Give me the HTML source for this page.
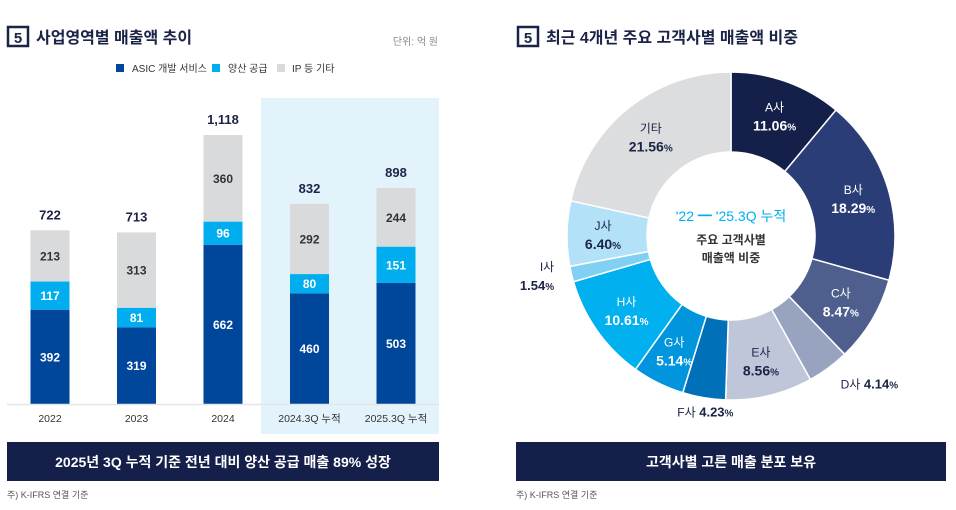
<!DOCTYPE html>
<html><head><meta charset="utf-8">
<style>
body{margin:0;width:956px;height:505px;background:#fff;overflow:hidden;font-family:"Liberation Sans","Noto Sans CJK KR",sans-serif;}
svg text{font-family:"Liberation Sans","Noto Sans CJK KR",sans-serif;}
</style></head>
<body>
<svg width="956" height="505" viewBox="0 0 956 505">
<g>
<rect x="8" y="27" width="20" height="19" fill="none" stroke="#1b2447" stroke-width="2.5"/>
<text x="18" y="43" font-size="15" font-weight="bold" fill="#1b2447" text-anchor="middle">5</text>
</g>
<text x="36" y="43" font-size="16" font-weight="bold" fill="#1b2447">사업영역별 매출액 추이</text>
<text x="438" y="45" font-size="10" fill="#888" text-anchor="end">단위: 억 원</text>
<g>
<rect x="116" y="64" width="8" height="8" fill="#00479b"/><text x="132" y="72" font-size="10" fill="#333">ASIC 개발 서비스</text>
<rect x="212" y="64" width="8" height="8" fill="#00aeef"/><text x="228" y="72" font-size="10" fill="#333">양산 공급</text>
<rect x="277" y="64" width="8" height="8" fill="#d9dadc"/><text x="292" y="72" font-size="10" fill="#333">IP 등 기타</text>
</g>
<rect x="261" y="98" width="178" height="336" fill="#e3f3fb"/>
<g id="bars"></g>
<line x1="7" y1="404.5" x2="439" y2="404.5" stroke="#e3e5e8" stroke-width="1.5"/>
<rect x="7" y="442" width="432" height="39" fill="#141f4a"/>
<text x="223" y="467" font-size="14" font-weight="bold" fill="#fff" text-anchor="middle">2025년 3Q 누적 기준 전년 대비 양산 공급 매출 89% 성장</text>
<text x="7" y="498" font-size="9" fill="#555">주) K-IFRS 연결 기준</text>

<g>
<rect x="518" y="27" width="20" height="19" fill="none" stroke="#1b2447" stroke-width="2.5"/>
<text x="528" y="43" font-size="15" font-weight="bold" fill="#1b2447" text-anchor="middle">5</text>
</g>
<text x="546" y="43" font-size="16" font-weight="bold" fill="#1b2447">최근 4개년 주요 고객사별 매출액 비중</text>
<g id="donut"></g>
<g>
<text x="731" y="221" font-size="14" fill="#00aeef" text-anchor="middle">'22 ━ '25.3Q 누적</text>
<text x="731" y="244" font-size="12" font-weight="bold" fill="#333" text-anchor="middle">주요 고객사별</text>
<text x="731" y="262" font-size="12" font-weight="bold" fill="#333" text-anchor="middle">매출액 비중</text>
</g>
<rect x="516" y="442" width="430" height="39" fill="#141f4a"/>
<text x="731" y="467" font-size="14" font-weight="bold" fill="#fff" text-anchor="middle">고객사별 고른 매출 분포 보유</text>
<text x="516" y="498" font-size="9" fill="#555">주) K-IFRS 연결 기준</text>
</svg>
<script>
const categories=["2022","2023","2024","2024.3Q 누적","2025.3Q 누적"];
const asicValues=[392,319,662,460,503];
const massValues=[117,81,96,80,151];
const otherValues=[213,313,360,292,244];
const totalLabels=["722","713","1,118","832","898"];

const segNames=["A사","B사","C사","D사","E사","F사","G사","H사","I사","J사","기타"];
const segValues=[11.06,18.29,8.47,4.14,8.56,4.23,5.14,10.61,1.54,6.40,21.56];

const NS="http://www.w3.org/2000/svg";
function mk(tag,attrs,parent){const e=document.createElementNS(NS,tag);for(const k in attrs)e.setAttribute(k,attrs[k]);parent.appendChild(e);return e;}
const base=404, scale=269/1118;
const yPx=v=>v*scale;
const xC=i=>50+i*86.5;
const bars=document.getElementById('bars');
const layers=[[asicValues,"#00479b","#fff","asic"],[massValues,"#00aeef","#fff","mass"],[otherValues,"#d9dadc","#333","other"]];
categories.forEach((c,i)=>{
  let y=base;
  layers.forEach(([vals,col,tc,nm])=>{
    const h=yPx(vals[i]);
    const r=mk('rect',{x:xC(i)-19.5,y:y-h,width:39,height:h,fill:col},bars);
    
    
    const t=mk('text',{x:xC(i),y:y-h/2+4.5,'font-size':12,'font-weight':'bold',fill:tc,'text-anchor':'middle'},bars);
    t.textContent=vals[i];
    y-=h;
  });
  const t=mk('text',{x:xC(i),y:y-11,'font-size':13,'font-weight':'bold',fill:'#1b2447','text-anchor':'middle'},bars);
  
  
  t.textContent=totalLabels[i];
  const l=mk('text',{x:xC(i),y:422,'font-size':10.5,fill:'#333','text-anchor':'middle'},bars);
  
  
  l.textContent=c;
});

const colors=["#141f4a","#2b3d77","#4e5f8e","#97a3bf","#bfc6d9","#0070b8","#0095dd","#00b0ef","#7fd0f3","#b3e2f8","#dcdddf"];
const labColors=["#fff","#fff","#fff","#1b2447","#1b2447","#1b2447","#fff","#fff","#1b2447","#1b2447","#1b2447"];
const cx=731,cy=236,R=164,r0=84;
const donut=document.getElementById('donut');
const tot=segValues.reduce((a,b)=>a+b,0);
let a0=0;
const pt=(a,rad)=>[cx+rad*Math.sin(a),cy-rad*Math.cos(a)];
segValues.forEach((v,i)=>{
  const a1=a0+v/tot*2*Math.PI;
  const [x1,y1]=pt(a0,R),[x2,y2]=pt(a1,R),[x3,y3]=pt(a1,r0),[x4,y4]=pt(a0,r0);
  const lg=(a1-a0)>Math.PI?1:0;
  const p=mk('path',{d:`M${x1},${y1}A${R},${R} 0 ${lg} 1 ${x2},${y2}L${x3},${y3}A${r0},${r0} 0 ${lg} 0 ${x4},${y4}Z`,fill:colors[i],stroke:'#fff','stroke-width':1.5},donut);
  
  
  const am=(a0+a1)/2;
  const small=v<4.5;
  let lx,ly;
  if(small){
    if(segNames[i]==="I사"){lx=cx-194;ly=cy+53;}
    else{const q=pt(am,R+22);lx=q[0]+(am<Math.PI?28:5);ly=q[1]+(am<Math.PI?3:-3);}
    const t=mk('text',{x:lx,y:ly,'font-size':13,'font-weight':'bold',fill:'#1b2447','text-anchor':'middle'},donut);
    if(segNames[i]==="I사"){
      t.innerHTML='<tspan x="'+(lx+10)+'" dy="-18" font-weight="normal" font-size="12">I사</tspan><tspan x="'+lx+'" dy="19">'+v.toFixed(2)+'<tspan font-size="10">%</tspan></tspan>';
    } else {
      t.innerHTML='<tspan font-weight="normal" font-size="12">'+segNames[i]+'</tspan> '+v.toFixed(2)+'<tspan font-size="10">%</tspan>';
    }
  } else {
    [lx,ly]=pt(am,(R+r0)/2+4);
    const n=mk('text',{x:lx,y:ly-4,'font-size':12,fill:labColors[i],'text-anchor':'middle'},donut);
    n.textContent=segNames[i];
    const t=mk('text',{x:lx,y:ly+15,'font-size':14,'font-weight':'bold',fill:labColors[i],'text-anchor':'middle'},donut);
    t.innerHTML=v.toFixed(2)+'<tspan font-size="10">%</tspan>';
  }
  a0=a1;
});
</script>
</body></html>
